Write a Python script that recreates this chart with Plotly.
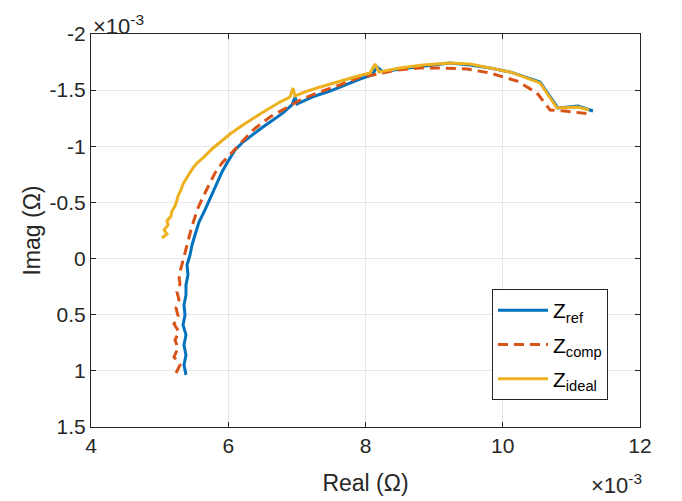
import plotly.graph_objects as go

# Values in units of 1e-3 Ohm (as displayed with the x10^-3 exponent)
ref_real = [5.384, 5.355, 5.384, 5.355, 5.384, 5.341, 5.370, 5.355, 5.384, 5.384, 5.413, 5.399,
            5.443, 5.472, 5.515, 5.574, 5.661, 5.749, 5.836, 5.909, 5.982, 6.098, 6.215, 6.361,
            6.506, 6.652, 6.798, 6.929, 6.973, 7.002, 7.089, 7.264, 7.483, 7.701, 7.920, 8.095,
            8.168, 8.255, 8.503, 8.751, 9.013, 9.231, 9.523, 9.814, 10.106, 10.543, 10.805,
            11.097, 11.315]
ref_imag = [1.036, 0.947, 0.858, 0.769, 0.680, 0.591, 0.502, 0.413, 0.324, 0.235, 0.146, 0.057,
            -0.032, -0.121, -0.210, -0.326, -0.433, -0.557, -0.673, -0.771, -0.851, -0.967, -1.038,
            -1.109, -1.172, -1.234, -1.297, -1.368, -1.439, -1.377, -1.403, -1.448, -1.492, -1.546,
            -1.599, -1.635, -1.706, -1.662, -1.688, -1.706, -1.724, -1.742, -1.724, -1.697, -1.662,
            -1.573, -1.341, -1.359, -1.314]

comp_real = [5.239, 5.297, 5.210, 5.268, 5.224, 5.282, 5.210, 5.268, 5.239, 5.282, 5.253, 5.297,
             5.282, 5.311, 5.341, 5.384, 5.413, 5.457, 5.501, 5.559, 5.632, 5.734, 5.807, 5.909,
             6.055, 6.200, 6.361, 6.608, 6.856, 7.046, 7.293, 7.628, 7.920, 8.109, 8.459, 8.794,
             9.129, 9.479, 9.814, 10.208, 10.499, 10.689, 10.907, 11.271]
comp_imag = [1.019, 0.947, 0.876, 0.796, 0.725, 0.654, 0.582, 0.511, 0.440, 0.369, 0.297, 0.226,
             0.155, 0.084, 0.012, -0.077, -0.166, -0.255, -0.344, -0.451, -0.549, -0.673, -0.762,
             -0.851, -0.949, -1.038, -1.145, -1.261, -1.350, -1.412, -1.475, -1.546, -1.617, -1.635,
             -1.679, -1.697, -1.697, -1.688, -1.653, -1.581, -1.475, -1.323, -1.314, -1.288]

ideal_real = [5.035, 5.107, 5.064, 5.122, 5.107, 5.166, 5.180, 5.224, 5.253, 5.268, 5.311, 5.341,
              5.384, 5.428, 5.486, 5.545, 5.632, 5.763, 5.880, 6.026, 6.171, 6.317, 6.463, 6.608,
              6.754, 6.900, 6.943, 6.973, 7.118, 7.293, 7.483, 7.672, 7.891, 8.066, 8.139, 8.197,
              8.503, 8.838, 9.231, 9.523, 9.814, 10.106, 10.543, 10.791, 11.097, 11.257]
ideal_imag = [-0.183, -0.219, -0.255, -0.299, -0.335, -0.379, -0.424, -0.468, -0.522, -0.557,
              -0.611, -0.664, -0.709, -0.753, -0.807, -0.851, -0.896, -0.976, -1.038, -1.109,
              -1.172, -1.234, -1.288, -1.341, -1.394, -1.439, -1.519, -1.448, -1.484, -1.519,
              -1.555, -1.590, -1.626, -1.653, -1.733, -1.662, -1.697, -1.724, -1.742, -1.733,
              -1.697, -1.662, -1.564, -1.341, -1.350, -1.323]

x_ticks = [4, 6, 8, 10, 12]
x_tick_labels = ["4", "6", "8", "10", "12"]
y_ticks = [-2, -1.5, -1, -0.5, 0, 0.5, 1, 1.5]
y_tick_labels = ["-2", "-1.5", "-1", "-0.5", "0", "0.5", "1", "1.5"]

AX = "#262626"
FONT = "Liberation Sans, Arial, sans-serif"
fig = go.Figure()
fig.add_trace(go.Scatter(x=ref_real, y=ref_imag, mode="lines", name="Z<sub>ref</sub>",
                         legendgroup="a", line=dict(color="#0072BD", width=3)))
fig.add_trace(go.Scatter(x=comp_real, y=comp_imag, mode="lines", name="Z<sub>comp</sub>",
                         legendgroup="b", line=dict(color="#D95319", width=3, dash="10px,6px")))
fig.add_trace(go.Scatter(x=ideal_real, y=ideal_imag, mode="lines", name="Z<sub>ideal</sub>",
                         legendgroup="c", line=dict(color="#EDB120", width=3)))

fig.update_layout(
    width=674, height=493,
    margin=dict(l=83, r=42, t=26, b=74, autoexpand=False),
    plot_bgcolor="white", paper_bgcolor="white",
    font=dict(family=FONT, color=AX, size=20),
    showlegend=True,
    legend=dict(x=0.9417, y=0.0687, xanchor="right", yanchor="bottom",
                bgcolor="white", bordercolor=AX, borderwidth=1, itemwidth=50,
                font=dict(size=21, color="#000000"), tracegroupgap=4),
    annotations=[
        dict(text="×10<sup>-3</sup>", xref="paper", yref="paper", x=0.0, y=1.0,
             xanchor="left", yanchor="bottom", yshift=-7, showarrow=False,
             font=dict(size=22, color=AX)),
        dict(text="×10<sup>-3</sup>", xref="paper", yref="paper", x=1.008, y=-0.105,
             xanchor="right", yanchor="top", showarrow=False, font=dict(size=22, color=AX)),
    ],
)
fig.update_xaxes(range=[4, 12], tickvals=x_ticks, ticktext=x_tick_labels,
                 ticks="inside", ticklen=5, tickcolor=AX, showline=True, linecolor=AX,
                 linewidth=1, mirror="ticks", showgrid=True, gridcolor="#e6e6e6",
                 zeroline=False, automargin=False,
                 title=dict(text="Real (Ω)", font=dict(size=23), standoff=18),
                 tickfont=dict(size=21))
fig.update_yaxes(range=[1.5, -2], tickvals=y_ticks, ticktext=y_tick_labels,
                 ticks="inside", ticklen=5, tickcolor=AX, showline=True, linecolor=AX,
                 linewidth=1, mirror="ticks", showgrid=True, gridcolor="#e6e6e6",
                 zeroline=False, automargin=False,
                 title=dict(text="Imag (Ω)", font=dict(size=23), standoff=2),
                 tickfont=dict(size=21))

fig.write_html("out.html")
